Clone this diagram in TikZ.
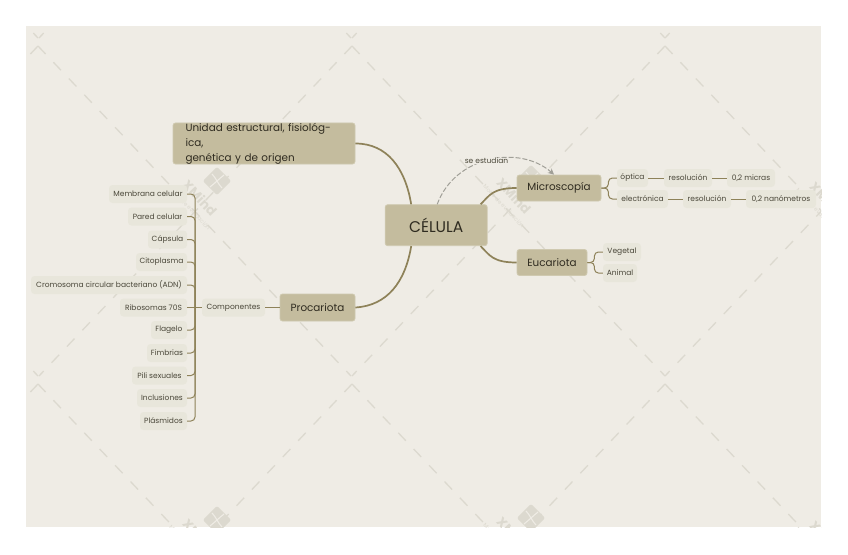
\documentclass[tikz,border=0pt]{standalone}
\usepackage{fontspec}
\usetikzlibrary{arrows.meta}
\setmainfont{Poppins}
\definecolor{bgc}{HTML}{EFECE5}
\definecolor{mainf}{HTML}{C4BC9E}
\definecolor{mainb}{HTML}{CFC9B0}
\definecolor{subf}{HTML}{E8E6DB}
\definecolor{linec}{HTML}{8E8259}
\definecolor{txt}{HTML}{2F2B20}
\definecolor{txts}{HTML}{4A4739}
\definecolor{wm}{HTML}{DCD9CF}
\definecolor{rel}{HTML}{A09F97}
\tikzset{
  x=1pt,y=-1pt,
  big/.style={draw=mainb,line width=0.8pt,fill=mainf,rounded corners=2.5pt,text=txt,inner sep=0pt,font=\fontsize{10.4}{15}\selectfont,align=center},
  small/.style={fill=subf,rounded corners=3.5pt,text=txts,inner sep=0pt,font=\fontsize{7.5}{10}\selectfont,align=center},
  curve/.style={draw=linec,line width=1.7pt},
  brk/.style={draw=linec,line width=1pt,rounded corners=4pt},
  plain/.style={draw=linec,line width=1pt},
  wmd/.style={draw=wm,line width=1.3pt,dash pattern=on 11pt off 11.4pt},
}
\begin{document}
\begin{tikzpicture}
\useasboundingbox (0,0) rectangle (848,554);
\fill[bgc] (26,26) rectangle (821,527);
\begin{scope}
\clip (26,26) rectangle (821,527);
\foreach \xa in {-275,38,352,665,978}{
  \foreach \ya in {-300,38,376}{
    \draw[wmd] (\xa,\ya+8) -- (\xa+313,\ya+338);
    \draw[wmd] (\xa,\ya+8) -- (\xa-313,\ya+338);
  }
}
\foreach \xa/\ya in {217/181,531/179,844/183,217/520,531/518,844/522}{
  \begin{scope}[shift={(\xa,\ya)}]
    \fill[wm,rounded corners=2pt,rotate=45] (-10,-10) rectangle (10,10);
    \draw[bgc,line width=1.1pt] (-5,-7) .. controls (-1,-3) and (1,3) .. (5,7);
    \draw[bgc,line width=1.1pt] (7,-6) .. controls (2,-2) and (-2,2) .. (-7,6);
    \node[text=wm,rotate=-47,inner sep=0pt,font=\fontsize{13}{13}\selectfont\bfseries] (wx\xa\ya) at (-17,17) {XMind};
    \node[text=wm,rotate=-47,inner sep=0pt,font=\fontsize{5.6}{7}\selectfont] (wy\xa\ya) at (-27,27) {Modo de evaluación};
  \end{scope}
}
\end{scope}

% central and main nodes
\node[big,minimum width=102pt,minimum height=41pt,font=\fontsize{15.5}{20}\selectfont] (cel) at (436.2,225.2) {CÉLULA};
\node[big,minimum width=182pt,minimum height=41pt,align=left,text width=157pt] (uni) at (264,143.5) {Unidad estructural, fisiológica,\\genética y de origen};
\node[big,minimum width=75pt,minimum height=27pt] (pro) at (317.5,307.5) {Procariota};
\node[big,minimum width=84pt,minimum height=26pt] (mic) at (559,188) {Microscopía};
\node[big,minimum width=70pt,minimum height=26pt] (euc) at (552,262.5) {Eucariota};

% right side
\node[small,minimum width=31pt,minimum height=18pt] (opt) at (632.5,178) {óptica};
\node[small,minimum width=48pt,minimum height=18pt] (res1) at (688,178) {resolución};
\node[small,minimum width=48pt,minimum height=18pt] (mic02) at (751,178) {0,2 micras};
\node[small,minimum width=51pt,minimum height=18pt] (ele) at (642.5,199) {electrónica};
\node[small,minimum width=48pt,minimum height=18pt] (res2) at (707,199) {resolución};
\node[small,minimum width=70pt,minimum height=18pt] (nan) at (781,199) {0,2 nanómetros};
\node[small,minimum width=38pt,minimum height=18pt] (veg) at (622,252) {Vegetal};
\node[small,minimum width=34pt,minimum height=18pt] (ani) at (620,273) {Animal};

% left side
\node[small,minimum width=63pt,minimum height=18pt] (com) at (233.5,307.5) {Componentes};
\node[small,minimum width=78pt,minimum height=18pt] (l1) at (148,194) {Membrana celular};
\node[small,minimum width=59pt,minimum height=18pt] (l2) at (157.5,216.5) {Pared celular};
\node[small,minimum width=39pt,minimum height=18pt] (l3) at (167.5,239.5) {Cápsula};
\node[small,minimum width=51pt,minimum height=18pt] (l4) at (161.5,262) {Citoplasma};
\node[small,minimum width=156pt,minimum height=18pt] (l5) at (109,285) {Cromosoma circular bacteriano (ADN)};
\node[small,minimum width=67pt,minimum height=18pt] (l6) at (153.5,307.5) {Ribosomas 70S};
\node[small,minimum width=36pt,minimum height=18pt] (l7) at (169,330) {Flagelo};
\node[small,minimum width=40pt,minimum height=18pt] (l8) at (167,353) {Fimbrias};
\node[small,minimum width=55pt,minimum height=18pt] (l9) at (159.5,375.5) {Pili sexuales};
\node[small,minimum width=50pt,minimum height=18pt] (l10) at (162,398) {Inclusiones};
\node[small,minimum width=47pt,minimum height=18pt] (l11) at (163.5,421) {Plásmidos};

% main curves
\draw[curve] (uni.east) .. controls +(32,0) and +(-6,-36) .. ([xshift=-25pt]cel.north);
\draw[curve] (pro.east) .. controls +(32,-2) and +(-6,36) .. ([xshift=-25pt]cel.south);
\draw[curve] (mic.west) .. controls +(-24,0) and +(9,-9) .. ([xshift=-7pt]cel.north east);
\draw[curve] (euc.west) .. controls +(-24,0) and +(9,9) .. ([xshift=-7pt]cel.south east);

% right connectors
\draw[brk] (mic.east) -- ++(7,0) |- (opt.west);
\draw[brk] (mic.east) -- ++(7,0) |- (ele.west);
\draw[brk] (euc.east) -- ++(7,0) |- (veg.west);
\draw[brk] (euc.east) -- ++(7,0) |- (ani.west);
\draw[plain] (opt) -- (res1);
\draw[plain] (res1) -- (mic02);
\draw[plain] (ele) -- (res2);
\draw[plain] (res2) -- (nan);

% left connectors
\draw[plain] (pro.west) -- (com.east);
\draw[plain] (com.west) -- (l6.east);
\coordinate (sp) at (195,307.5);
\foreach \n in {1,2,3,4,5,7,8,9,10,11}{
  \draw[brk] (l\n.east) -| (sp);
}

% relationship
\draw[draw=rel,line width=1pt,dash pattern=on 5pt off 2pt,-{Stealth[length=6pt,width=6pt]}] ([xshift=1pt]cel.north) .. controls +(18,-49) and +(-34,-30) .. ([xshift=-5pt]mic.north);
\node[fill=bgc,text=txts,inner sep=0.5pt,font=\fontsize{7.5}{10}\selectfont] (rl) at (486.5,161) {se estudian};
\end{tikzpicture}
\end{document}
